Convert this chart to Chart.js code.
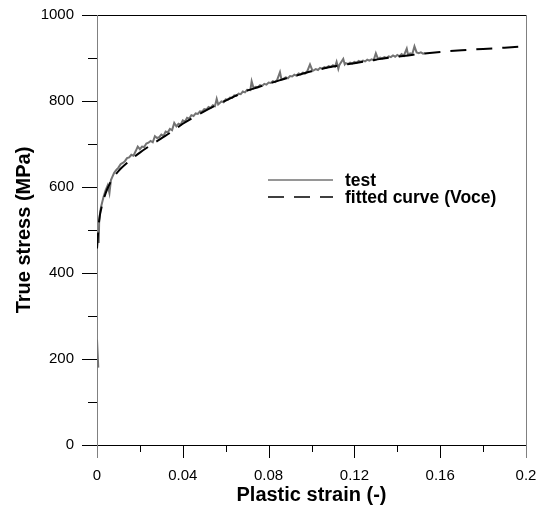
<!DOCTYPE html>
<html>
<head>
<meta charset="utf-8">
<script src="https://cdn.jsdelivr.net/npm/chart.js@4.4.1/dist/chart.umd.min.js"></script>
<style>
  body { margin: 0; background: #fff; }
  #wrap { width: 540px; height: 512px; }
</style>
</head>
<body>
<div id="wrap"><canvas id="curve" width="540" height="512"></canvas></div>
<script>
// measured test curve (strain, stress in MPa), null = break in the line
const testStrain = [0, 0.0006, 0.0007, 0.0008, 0.001, 0.0015, 0.002, 0.003, 0.004, 0.005, 0.0058, 0.0065, 0.007,
  0.008, 0.009, 0.010, 0.011, 0.012, 0.013, 0.014, 0.015, 0.016, 0.017, 0.018, 0.019, 0.020,
  0.021, 0.022, 0.023, 0.024, 0.025, 0.026, 0.027, 0.028, 0.029, 0.030, 0.031, 0.032, 0.033, 0.034, 0.035,
  0.036, 0.037, 0.038, 0.039, 0.040, 0.041, 0.042, 0.043, 0.044, 0.045, 0.046, 0.047, 0.048, 0.049, 0.050,
  0.051, 0.052, 0.053, 0.054, 0.055, 0.0558, 0.0565, 0.058, 0.059, 0.060, 0.061, 0.062, 0.063, 0.064, 0.065,
  0.066, 0.067, 0.068, 0.069, 0.070, 0.0715, 0.0721, 0.073, 0.074, 0.075, 0.076, 0.077, 0.078, 0.079, 0.080,
  0.081, 0.082, 0.083, 0.084, 0.0853, 0.086, 0.087, 0.088, 0.089, 0.090, 0.091, 0.092, 0.093, 0.094, 0.095,
  0.096, 0.097, 0.098, 0.0993, 0.1005, 0.101, 0.102, 0.103, 0.104, 0.105, 0.106, 0.107, 0.108, 0.109, 0.110,
  0.111, 0.1117, 0.1125, 0.113, 0.1148, 0.1155, 0.116, 0.117, 0.118, 0.119, 0.120, 0.121, 0.122, 0.123, 0.124,
  0.125, 0.126, 0.127, 0.128, 0.129, 0.130, 0.131, 0.132, 0.133, 0.134, 0.135, 0.136, 0.137, 0.138, 0.139,
  0.140, 0.141, 0.142, 0.143, 0.1444, 0.145, 0.146, 0.147, 0.148, 0.149, 0.150, 0.151, 0.152, 0.153];
const testStress = [245, 180, null, 470, 518, 543, 556, 576, 592, 604, 586, 616, 622,
  633, 640, 645, 653, 656, 660, 667, 669, 675, 673, 683, 694, 688,
  694, 693, 701, 703, 707, 704, 718, 714, 716, 722, 719, 729, 727, 735, 732,
  749, 741, 747, 745, 755, 752, 761, 759, 767, 765, 771, 770, 776, 775, 781,
  780, 786, 784, 790, 788, 805, 792, 799, 797, 804, 803, 808, 807, 813, 812,
  817, 816, 822, 820, 826, 825, 846, 830, 833, 832, 837, 835, 840, 838, 843,
  842, 846, 844, 849, 867, 850, 852, 855, 853, 858, 857, 861, 859, 864, 862,
  866, 864, 869, 885, 870, 871, 874, 872, 877, 875, 879, 877, 881, 879, 883,
  880, 891, 875, 884, 898, 885, 888, 886, 889, 887, 891, 889, 893, 891, 894,
  892, 896, 894, 897, 895, 911, 898, 901, 899, 902, 900, 904, 902, 906, 903,
  907, 904, 909, 905, 922, 908, 911, 909, 927, 913, 911, 913, 910, 911];

// fitted Voce curve
const fitStrain = [0, 0.001, 0.002, 0.004, 0.006, 0.008, 0.010, 0.015, 0.020, 0.025, 0.030, 0.035, 0.040,
  0.045, 0.050, 0.055, 0.060, 0.065, 0.070, 0.075, 0.080, 0.085, 0.090, 0.095, 0.100, 0.105, 0.110,
  0.115, 0.120, 0.125, 0.130, 0.135, 0.140, 0.145, 0.150, 0.160, 0.170, 0.180, 0.190, 0.200];
const fitStress = [457, 522, 550, 585, 608, 624, 637, 660, 680, 697, 713, 729, 747,
  762, 776, 789, 801, 813, 824, 832, 840, 848, 855, 862, 869, 875, 880,
  884, 888, 892, 896, 900, 903, 906, 909, 914, 918, 921, 924, 927];

// axis ticks
const xMajor = [0, 0.04, 0.08, 0.12, 0.16, 0.2];
const xMinor = [0.02, 0.06, 0.10, 0.14, 0.18];
const yMajor = [0, 200, 400, 600, 800, 1000];
const yMinor = [100, 300, 500, 700, 900];

const FONT = "Arial, 'Liberation Sans', sans-serif";

const toPts = (xs, ys) => xs.map((x, i) => ({x: x, y: ys[i]}));

// axis frame + ticks drawn by hand so major/minor get different lengths
const frame = {
  id: 'frame',
  beforeDatasetsDraw(chart) {
    const {ctx, chartArea: {left, right, top, bottom}} = chart;
    const xs = chart.scales.x, ys = chart.scales.y;
    ctx.save();
    ctx.lineWidth = 1;
    ctx.strokeStyle = '#000';
    ctx.beginPath();
    yMajor.forEach(v => { const p = Math.round(ys.getPixelForValue(v)) + 0.5; ctx.moveTo(left - 15, p); ctx.lineTo(left, p); });
    yMinor.forEach(v => { const p = Math.round(ys.getPixelForValue(v)) + 0.5; ctx.moveTo(left - 9, p); ctx.lineTo(left, p); });
    xMajor.forEach(v => { const p = Math.round(xs.getPixelForValue(v)) + 0.5; ctx.moveTo(p, bottom); ctx.lineTo(p, bottom + 13); });
    xMinor.forEach(v => { const p = Math.round(xs.getPixelForValue(v)) + 0.5; ctx.moveTo(p, bottom); ctx.lineTo(p, bottom + 7); });
    ctx.moveTo(left, Math.round(top) + 0.5); ctx.lineTo(right, Math.round(top) + 0.5);
    ctx.moveTo(left, Math.round(bottom) + 0.5); ctx.lineTo(right, Math.round(bottom) + 0.5);
    ctx.stroke();
    ctx.strokeStyle = '#808080';
    ctx.beginPath();
    ctx.moveTo(Math.round(left) + 0.5, top); ctx.lineTo(Math.round(left) + 0.5, bottom + 13);
    ctx.moveTo(Math.round(right) + 0.5, top); ctx.lineTo(Math.round(right) + 0.5, bottom + 13);
    ctx.stroke();
    ctx.restore();
  }
};

// legend sits inside the plot
const innerLegend = {
  id: 'innerLegend',
  afterDraw(chart) {
    const ctx = chart.ctx;
    const rows = [{y: 180}, {y: 197}];
    ctx.save();
    ctx.font = "bold 17.5px " + FONT;
    ctx.textBaseline = 'middle';
    ctx.fillStyle = '#000';
    chart.data.datasets.forEach((ds, i) => {
      const y = rows[i].y;
      ctx.strokeStyle = ds.borderColor;
      ctx.lineWidth = Math.min(ds.borderWidth, 1.5);
      ctx.setLineDash(ds.borderDash || []);
      ctx.beginPath();
      ctx.moveTo(268, y); ctx.lineTo(333, y);
      ctx.stroke();
      ctx.fillText(ds.label, 345, y + 1);
    });
    ctx.restore();
  }
};

new Chart("curve", {
  type: 'line',
  data: {
    datasets: [
      {
        label: "test",
        data: toPts(testStrain, testStress),
        borderColor: "rgb(115,115,115)",
        borderWidth: 2,
        pointRadius: 0,
        tension: 0,
        spanGaps: false,
        order: 1
      },
      {
        label: "fitted curve (Voce)",
        data: toPts(fitStrain, fitStress),
        borderColor: "#000",
        borderWidth: 2,
        borderDash: [16, 10],
        pointRadius: 0,
        cubicInterpolationMode: 'monotone',
        order: 0
      }
    ]
  },
  options: {
    responsive: false,
    animation: false,
    layout: { padding: { top: 15, right: 14, left: 0, bottom: 0 } },
    plugins: { legend: { display: false }, tooltip: { enabled: false } },
    scales: {
      x: {
        type: 'linear', min: 0, max: 0.2,
        afterBuildTicks: s => { s.ticks = xMajor.map(v => ({value: v})); },
        afterFit: s => { s.height = 67; s.paddingLeft = 0; s.paddingRight = 0; },
        grid: { display: false, drawTicks: false },
        border: { display: false },
        ticks: {
          padding: 22, color: '#000', font: { family: FONT, size: 15 },
          callback: v => String(Math.round(v * 100) / 100)
        },
        title: {
          display: true, text: "Plastic strain (-)", color: '#000',
          font: { family: FONT, size: 20, weight: 'bold' },
          padding: { bottom: 5 }
        }
      },
      y: {
        type: 'linear', min: 0, max: 1000,
        afterBuildTicks: s => { s.ticks = yMajor.map(v => ({value: v})); },
        afterFit: s => { s.width = 97; s.paddingTop = 0; s.paddingBottom = 0; },
        grid: { display: false, drawTicks: false },
        border: { display: false },
        ticks: {
          padding: 23, color: '#000', font: { family: FONT, size: 15 },
          callback: v => String(v)
        },
        title: {
          display: true, text: "True stress (MPa)", color: '#000',
          font: { family: FONT, size: 20, weight: 'bold' },
          padding: { top: 12 }
        }
      }
    }
  },
  plugins: [frame, innerLegend]
});
</script>
</body>
</html>
